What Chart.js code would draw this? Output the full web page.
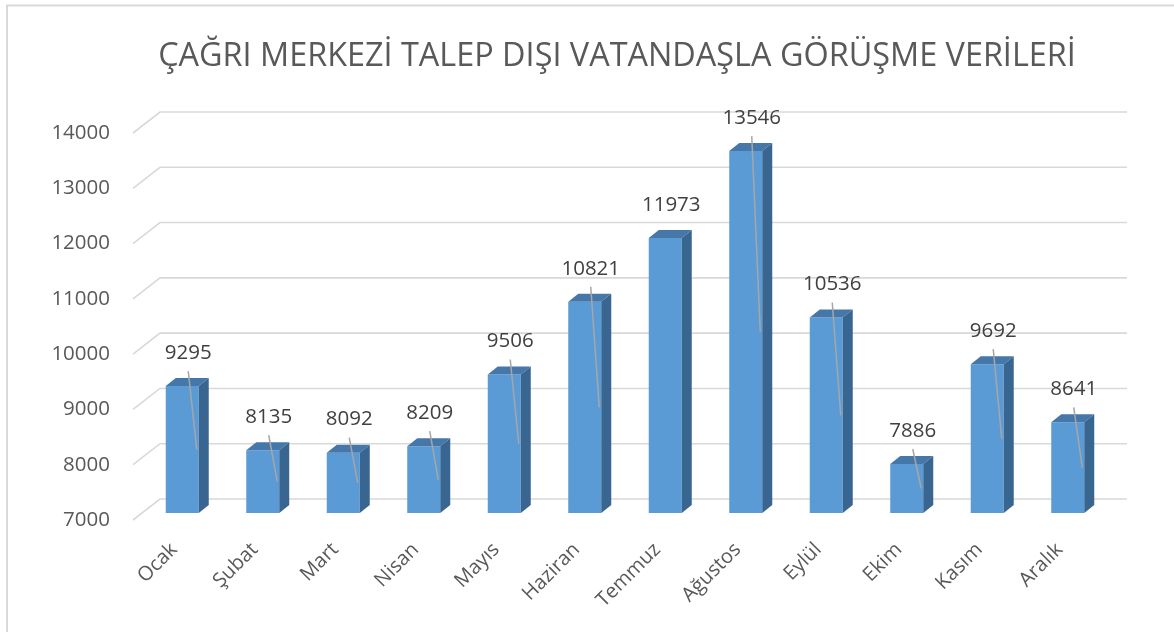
<!DOCTYPE html>
<html><head><meta charset="utf-8">
<script src="https://cdn.jsdelivr.net/npm/chart.js@4.4.1/dist/chart.umd.min.js"></script>
<style>html,body{margin:0;padding:0;background:#fff;}#wrap{width:1174px;height:632px;position:relative;}</style>
</head><body><div id="wrap"><canvas id="c"></canvas></div>
<script>
const chartTitle = 'ÇAĞRI MERKEZİ TALEP DIŞI VATANDAŞLA GÖRÜŞME VERİLERİ';
const months = ['Ocak','Şubat','Mart','Nisan','Mayıs','Haziran','Temmuz','Ağustos','Eylül','Ekim','Kasım','Aralık'];
const calls = [9295,8135,8092,8209,9506,10821,11973,13546,10536,7886,9692,8641];
const yMin = 7000, yMax = 14000, yStep = 1000;

const FONT = '"Open Sans", "Liberation Sans", sans-serif';

const excel3d = {
  id: 'excel3d',
  beforeDraw(chart) {
    const ctx = chart.ctx;
    ctx.save();
    ctx.fillStyle = '#fff';
    ctx.fillRect(0, 0, chart.width, chart.height);
    ctx.strokeStyle = '#d9d9d9';
    ctx.lineWidth = 2;
    ctx.beginPath();
    ctx.moveTo(7, chart.height);
    ctx.lineTo(7, 5.5);
    ctx.lineTo(chart.width, 5.5);
    ctx.stroke();
    ctx.restore();
  },
  beforeDatasetsDraw(chart, args, opts) {
    const ctx = chart.ctx, ys = chart.scales.y, a = chart.chartArea;
    ctx.save();
    ctx.strokeStyle = '#d9d9d9';
    ctx.lineWidth = 1.6;
    ys.ticks.forEach(t => {
      const y = ys.getPixelForValue(t.value);
      ctx.beginPath();
      ctx.moveTo(a.left + opts.front.dx, y + opts.front.dy);
      ctx.lineTo(a.left + opts.back.dx, y + opts.back.dy);
      ctx.lineTo(a.right + opts.back.dx + 1, y + opts.back.dy);
      ctx.stroke();
    });
    ctx.restore();
  },
  afterDatasetsDraw(chart, args, opts) {
    const ctx = chart.ctx;
    const meta = chart.getDatasetMeta(0);
    const ds = chart.data.datasets[0];
    const dx = opts.depth.dx, dy = opts.depth.dy;
    ctx.save();
    meta.data.forEach((el) => {
      const p = el.getProps(['x', 'y', 'base', 'width'], true);
      const l = p.x - p.width / 2, r = p.x + p.width / 2;
      ctx.fillStyle = opts.topColor;
      ctx.beginPath();
      ctx.moveTo(l, p.y); ctx.lineTo(l + dx, p.y - dy); ctx.lineTo(r + dx, p.y - dy); ctx.lineTo(r, p.y);
      ctx.closePath(); ctx.fill();
      ctx.fillStyle = opts.sideColor;
      ctx.beginPath();
      ctx.moveTo(r, p.y); ctx.lineTo(r + dx, p.y - dy); ctx.lineTo(r + dx, p.base - dy); ctx.lineTo(r, p.base);
      ctx.closePath(); ctx.fill();
    });
    ctx.font = '20.5px ' + FONT;
    ctx.textAlign = 'center';
    ctx.textBaseline = 'middle';
    meta.data.forEach((el, i) => {
      const p = el.getProps(['x', 'y', 'base', 'width'], true);
      const lx = p.x + 6, ly = p.y - 33;
      if (!opts.noLeader.includes(chart.data.labels[i])) {
        ctx.strokeStyle = '#a6a6a6';
        ctx.lineWidth = 1.5;
        ctx.beginPath();
        ctx.moveTo(lx, ly + 18);
        ctx.lineTo(p.x + p.width / 2 - 2, (p.y + p.base) / 2);
        ctx.stroke();
      }
      ctx.fillStyle = '#404040';
      ctx.fillText(String(ds.data[i]), lx, ly);
    });
    const a = chart.chartArea;
    ctx.fillStyle = '#595959';
    ctx.font = '32.4px ' + FONT;
    ctx.fillText(chartTitle, (a.left + a.right) / 2 - 8, 57);
    ctx.restore();
  }
};

new Chart(document.getElementById('c'), {
  type: 'bar',
  data: {
    labels: months,
    datasets: [{
      data: calls,
      base: yMin,
      backgroundColor: '#5b9bd5',
      borderWidth: 0,
      barPercentage: 0.41,
      categoryPercentage: 1
    }]
  },
  options: {
    responsive: true,
    maintainAspectRatio: false,
    animation: false,
    devicePixelRatio: 1,
    layout: { padding: { top: 126, right: 66, bottom: 0, left: 0 } },
    plugins: {
      legend: { display: false },
      tooltip: { enabled: false },
      title: { display: false },
      excel3d: {
        depth: { dx: 10, dy: 8 },
        front: { dx: -9, dy: 7 },
        back: { dx: 18, dy: -14 },
        topColor: '#4677a9',
        sideColor: '#396591',
        noLeader: ['Temmuz']
      }
    },
    scales: {
      x: {
        grid: { display: false, drawTicks: false },
        border: { display: false },
        ticks: {
          color: '#595959',
          font: { family: FONT, size: 20 },
          maxRotation: 45, minRotation: 45,
          padding: 25,
          labelOffset: -8,
          autoSkip: false
        },
        afterFit(s) { s.height = 119; }
      },
      y: {
        min: yMin, max: yMax,
        grid: { display: false, drawTicks: false },
        border: { display: false },
        ticks: {
          stepSize: yStep,
          color: '#595959',
          font: { family: FONT, size: 20.5 },
          padding: 32,
          labelOffset: 7,
          callback: v => String(v)
        },
        afterFit(s) { s.width = 142; }
      }
    }
  },
  plugins: [excel3d]
});
</script>
</body></html>
